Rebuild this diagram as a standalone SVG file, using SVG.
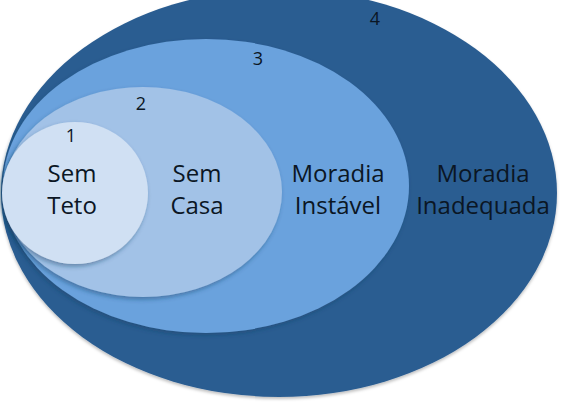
<svg xmlns="http://www.w3.org/2000/svg" width="561" height="405" viewBox="0 0 561 405">
  <defs>
    <filter id="sh" x="-10%" y="-10%" width="120%" height="125%">
      <feDropShadow dx="-1.5" dy="2.5" stdDeviation="2" flood-color="#1d3f66" flood-opacity="0.45"/>
    </filter>
    <filter id="shOuter" x="-5%" y="-5%" width="110%" height="112%">
      <feDropShadow dx="0" dy="2" stdDeviation="1.5" flood-color="#000000" flood-opacity="0.25"/>
    </filter>
  </defs>
  <style>
    .lbl { font-family: "Open Sans", "Liberation Sans", sans-serif; font-size: 24px; fill: #0b1624; text-anchor: middle; }
    .num { font-family: "Open Sans", "Liberation Sans", sans-serif; font-size: 18px; fill: #0b1624; text-anchor: middle; }
  </style>
  <rect width="561" height="405" fill="#ffffff"/>
  <g id="node-4">
    <ellipse cx="279" cy="193" rx="278" ry="204" fill="#2b5d91" filter="url(#shOuter)"/>
    <text class="num" x="375" y="25">4</text>
    <text class="lbl" x="483" y="182">Moradia</text>
    <text class="lbl" x="483" y="214">Inadequada</text>
  </g>
  <g id="node-3">
    <ellipse cx="206" cy="186" rx="203" ry="147" fill="#6ba2dd" filter="url(#sh)"/>
    <text class="num" x="258" y="65">3</text>
    <text class="lbl" x="338" y="182">Moradia</text>
    <text class="lbl" x="338" y="214">Instável</text>
  </g>
  <g id="node-2">
    <ellipse cx="143" cy="192" rx="139" ry="105" fill="#a2c2e7" filter="url(#sh)"/>
    <text class="num" x="141" y="110">2</text>
    <text class="lbl" x="197" y="182">Sem</text>
    <text class="lbl" x="197" y="214">Casa</text>
  </g>
  <g id="node-1">
    <ellipse cx="75" cy="193" rx="73" ry="71" fill="#d0e0f3" filter="url(#sh)"/>
    <text class="num" x="71" y="142">1</text>
    <text class="lbl" x="72" y="182">Sem</text>
    <text class="lbl" x="72" y="214">Teto</text>
  </g>
</svg>
